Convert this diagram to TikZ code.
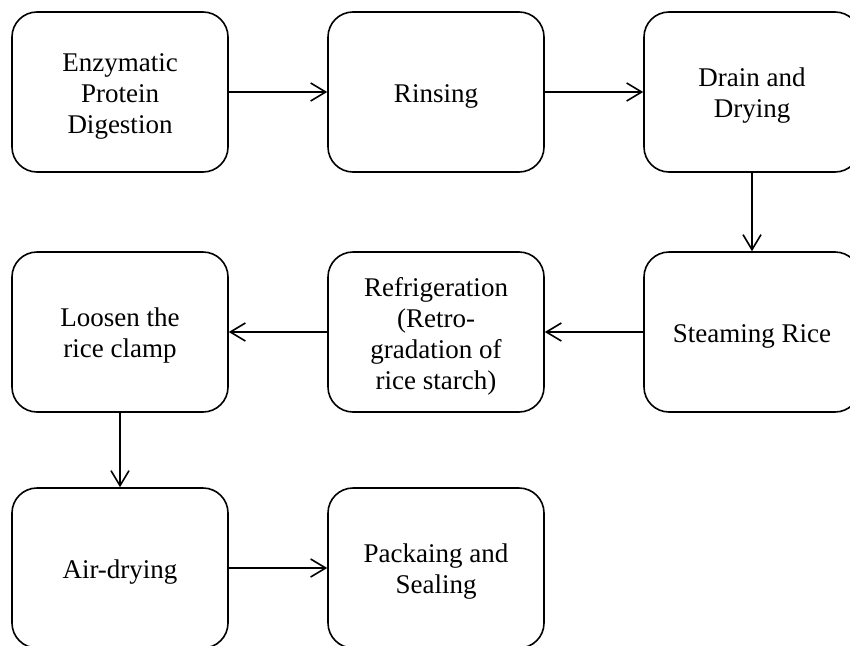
\documentclass[tikz,border=0pt]{standalone}
\usepackage{fontspec}
\setmainfont{Liberation Serif}
\usetikzlibrary{arrows.meta}
\begin{document}
\begin{tikzpicture}[x=1pt,y=-1pt,
  stepbox/.style={draw, line width=1.6pt, rounded corners=25pt, minimum width=216pt, minimum height=160pt, inner sep=0pt},
  steptext/.style={align=center, font=\fontsize{27}{31}\selectfont, inner sep=0pt},
  flow/.style={line width=1.6pt, -{Straight Barb[length=15pt,width=18pt]}}]
\useasboundingbox (0,0) rectangle (850,645);
\clip (0,0) rectangle (850,645);
\node[stepbox] (b1) at (120,92) {};
\node[stepbox] (b2) at (436,92) {};
\node[stepbox] (b3) at (752,92) {};
\node[stepbox] (b4) at (752,332) {};
\node[stepbox] (b5) at (436,332) {};
\node[stepbox] (b6) at (120,332) {};
\node[stepbox] (b7) at (120,568) {};
\node[stepbox] (b8) at (436,568) {};
\node[steptext] (t1) at ([yshift=-4pt]b1.center) {Enzymatic\\Protein\\Digestion};
\node[steptext] (t2) at ([yshift=-4pt]b2.center) {Rinsing};
\node[steptext] (t3) at ([yshift=-4pt]b3.center) {Drain and\\Drying};
\node[steptext] (t4) at ([yshift=-4pt]b4.center) {Steaming Rice};
\node[steptext] (t5) at ([yshift=-4pt]b5.center) {Refrigeration\\(Retro-\\gradation of\\rice starch)};
\node[steptext] (t6) at ([yshift=-4pt]b6.center) {Loosen the\\rice clamp};
\node[steptext] (t7) at ([yshift=-4pt]b7.center) {Air-drying};
\node[steptext] (t8) at ([yshift=-4pt]b8.center) {Packaing and\\Sealing};
\draw[flow] (b1) -- (b2);
\draw[flow] (b2) -- (b3);
\draw[flow] (b3) -- (b4);
\draw[flow] (b4) -- (b5);
\draw[flow] (b5) -- (b6);
\draw[flow] (b6) -- (b7);
\draw[flow] (b7) -- (b8);
\end{tikzpicture}
\end{document}
